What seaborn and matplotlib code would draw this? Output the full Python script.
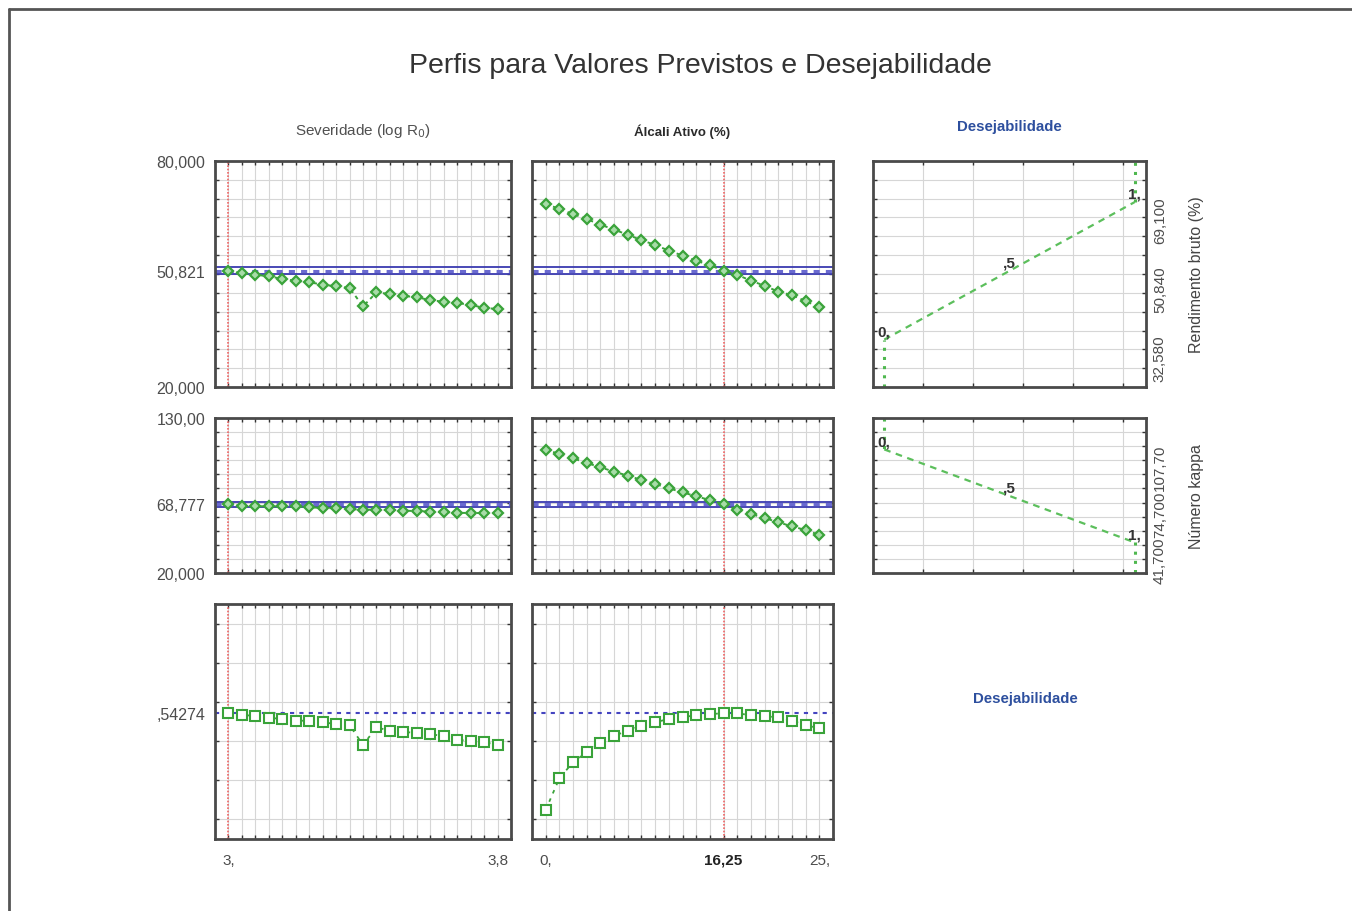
import numpy as np
import matplotlib
matplotlib.use("Agg")
import matplotlib.pyplot as plt
import seaborn as sns
from matplotlib.lines import Line2D

# ---------------------------
# data
# ---------------------------
sev_x = [3.00, 3.04, 3.08, 3.12, 3.16, 3.20, 3.24, 3.28, 3.32, 3.36, 3.40,
         3.44, 3.48, 3.52, 3.56, 3.60, 3.64, 3.68, 3.72, 3.76, 3.80]
alc_x = [0.0, 1.25, 2.5, 3.75, 5.0, 6.25, 7.5, 8.75, 10.0, 11.25, 12.5,
         13.75, 15.0, 16.25, 17.5, 18.75, 20.0, 21.25, 22.5, 23.75, 25.0]

yield_sev = [50.82, 50.2, 49.8, 49.4, 48.7, 48.2, 47.8, 47.2, 46.7, 46.3, 41.4,
             45.1, 44.7, 44.2, 43.8, 43.1, 42.6, 42.3, 41.8, 41.0, 40.7]
yield_alc = [68.6, 67.3, 65.9, 64.6, 63.1, 61.8, 60.4, 59.0, 57.7, 56.2, 54.9,
             53.5, 52.4, 50.82, 49.8, 48.2, 46.9, 45.3, 44.4, 42.8, 41.2]
kappa_sev = [68.78, 67.5, 67.4, 67.3, 67.2, 67.3, 66.6, 66.2, 65.9, 65.3, 65.0,
             64.9, 64.8, 64.3, 63.9, 63.6, 63.4, 62.7, 62.6, 62.5, 62.3]
kappa_alc = [107.5, 104.5, 101.4, 98.1, 95.0, 91.9, 89.1, 86.0, 83.2, 80.1, 77.3,
             74.4, 71.8, 68.78, 64.9, 61.9, 59.0, 56.0, 53.1, 50.5, 47.0]
des_sev = [0.543, 0.535, 0.527, 0.519, 0.513, 0.504, 0.504, 0.496, 0.487, 0.482, 0.380,
           0.470, 0.453, 0.448, 0.440, 0.434, 0.427, 0.407, 0.400, 0.394, 0.382]
des_alc = [0.048, 0.210, 0.292, 0.343, 0.389, 0.427, 0.453, 0.479, 0.496, 0.513, 0.521,
           0.533, 0.537, 0.543, 0.541, 0.533, 0.527, 0.521, 0.504, 0.482, 0.465]

current_sev = 3.0
current_alc = 16.25
current_yield = 50.821
current_kappa = 68.777
current_des = 0.54274
ci_yield = 0.95
ci_kappa = 1.8

# desirability functions (desirability level -> response value)
d_levels = [0.0, 0.5, 1.0]
d_labels = ["0,", ",5", "1,"]
yield_d = [32.58, 50.84, 69.10]
kappa_d = [107.7, 74.7, 41.7]
yield_d_lbl = ["32,580", "50,840", "69,100"]
kappa_d_lbl = ["107,70", "74,700", "41,700"]

row_ylim = [(20, 80), (20, 130), (-0.1, 1.1)]
row_ylbl = [["20,000", "50,821", "80,000"], ["20,000", "68,777", "130,00"], [",54274"]]
row_yval = [[20, current_yield, 80], [20, current_kappa, 130], [current_des]]
row_grid = [np.arange(20, 81, 5), np.arange(20, 131, 10), [0, 0.2, 0.4, 0.6, 0.8, 1.0]]

# ---------------------------
# style
# ---------------------------
sns.set_theme(style="white")
plt.rcParams['font.family'] = ['Liberation Sans', 'DejaVu Sans']

GREEN = '#3aa33a'
LGREEN = '#a8dca8'
BLUE = '#3a3ab0'
RED = '#f06464'
TXT = '#4d4d4d'

W, H = 1352, 912
fig = plt.figure(figsize=(W / 100, H / 100), dpi=100)

cols = [(215, 511), (532, 833), (873, 1146)]
rows = [(162, 388), (419, 574), (605, 840)]


def make_ax(c, r):
    x0, x1 = cols[c]
    y0, y1 = rows[r]
    return fig.add_axes([x0 / W, 1 - y1 / H, (x1 - x0) / W, (y1 - y0) / H])


def frame(ax):
    for s in ax.spines.values():
        s.set_color('#4a4a4a')
        s.set_linewidth(2)
    ax.tick_params(which='major', direction='in', length=3, width=1, color='#333333',
                   top=True, right=True, left=True, bottom=True,
                   labelleft=False, labelbottom=False)
    ax.grid(which='major', color='#d6d6d6', lw=0.8)
    ax.set_axisbelow(True)
    ax.xaxis.remove_overlapping_locs = False
    ax.yaxis.remove_overlapping_locs = False


xs_list = [sev_x, alc_x]
xlims = [(2.96, 3.84), (-1.25, 26.25)]
cur_x = [current_sev, current_alc]
series = [[yield_sev, yield_alc], [kappa_sev, kappa_alc], [des_sev, des_alc]]
cur_y = [current_yield, current_kappa, current_des]
cis = [ci_yield, ci_kappa, None]
xlbl_val = [[3.0, 3.8], [0.0, 16.25, 25.0]]
xlbl_txt = [["3,", "3,8"], ["0,", "16,25", "25,"]]

for r in range(3):
    for c in range(2):
        ax = make_ax(c, r)
        frame(ax)
        ax.set_xlim(*xlims[c])
        ax.set_ylim(*row_ylim[r])
        ax.set_xticks(xs_list[c])
        ax.set_yticks(row_grid[r])

        # current value lines
        ax.axvline(cur_x[c], color=RED, lw=1.2, ls=(0, (1, 1)), zorder=2)
        if cis[r] is not None:
            ax.axhline(cur_y[r] + cis[r], color=BLUE, lw=1.3, zorder=2)
            ax.axhline(cur_y[r] - cis[r], color=BLUE, lw=1.3, zorder=2)
            ax.axhline(cur_y[r], color='#6a6ad0', lw=2.2, ls=(0, (2, 2)), zorder=2)
        else:
            ax.axhline(cur_y[r], color='#4444c0', lw=1.5, ls=(0, (2, 2.5)), zorder=2)

        if r < 2:
            sns.lineplot(x=xs_list[c], y=series[r][c], ax=ax, color=GREEN, lw=1.4,
                         linestyle=(0, (2, 2)), marker='D', markersize=5,
                         markerfacecolor=LGREEN, markeredgecolor=GREEN,
                         markeredgewidth=1.6, zorder=3)
        else:
            sns.lineplot(x=xs_list[c], y=series[r][c], ax=ax, color=GREEN, lw=1.3,
                         linestyle=(0, (2, 3)), marker='s', markersize=7,
                         markerfacecolor='white', markeredgecolor=GREEN,
                         markeredgewidth=1.5, zorder=3)

        if c == 0:
            ax.set_yticks(row_yval[r], labels=row_ylbl[r], minor=True)
            ax.tick_params(which='minor', axis='y', length=0, labelleft=True,
                           labelsize=11.5, labelcolor=TXT, pad=7)
        if r == 2:
            ax.set_xticks(xlbl_val[c], labels=xlbl_txt[c], minor=True)
            ax.tick_params(which='minor', axis='x', length=0, labelbottom=True,
                           labelsize=11, labelcolor=TXT, pad=10)
            for t in ax.get_xticklabels(minor=True):
                if t.get_text() == "16,25":
                    t.set_fontweight('bold')
                    t.set_color('#222222')
        ax.set_xlabel('')
        ax.set_ylabel('')

# desirability function panels
d_resp = [yield_d, kappa_d]
d_lbls = [yield_d_lbl, kappa_d_lbl]
d_names = ["Rendimento bruto (%)", "Número kappa"]
for r in range(2):
    ax = make_ax(2, r)
    frame(ax)
    ax.set_xlim(-0.045, 1.045)
    ax.set_ylim(*row_ylim[r])
    ax.set_xticks([0.155, 0.355, 0.555, 0.755, 0.955])
    ax.set_yticks(row_grid[r])
    lo, hi = row_ylim[r]
    resp = d_resp[r]
    # plateaus outside the limits
    edge0 = lo if resp[0] < resp[-1] else hi
    edge1 = hi if resp[0] < resp[-1] else lo
    ax.plot([d_levels[0], d_levels[0]], [edge0, resp[0]], color='#4fb84f', lw=2.2,
            ls=(0, (1, 2)))
    ax.plot([d_levels[-1], d_levels[-1]], [resp[-1], edge1], color='#4fb84f', lw=2.2,
            ls=(0, (1, 2)))
    sns.lineplot(x=d_levels, y=resp, ax=ax, color='#5cbf5c', lw=1.6,
                 linestyle=(0, (3, 2.5)))
    for dl, rv, tx in zip(d_levels, resp, d_labels):
        ax.annotate(tx, (dl, rv), xytext=(0, 1), textcoords='offset points',
                    ha='center', va='bottom', fontsize=11, fontweight='bold',
                    color='#333333')
    sec = ax.secondary_yaxis('right')
    sec.set_yticks(resp, labels=d_lbls[r])
    sec.tick_params(length=0, labelrotation=90, labelsize=11, labelcolor=TXT, pad=5)
    for s in sec.spines.values():
        s.set_visible(False)
    ax.set_xlabel('')
    ax.set_ylabel('')
    yc = (rows[r][0] + rows[r][1]) / 2
    fig.text(1196 / W, 1 - yc / H, d_names[r], rotation=90, ha='center', va='center',
             fontsize=11.5, color='#444444')

# texts
fig.text(700 / W, 1 - 66 / H, "Perfis para Valores Previstos e Desejabilidade",
         ha='center', va='center', fontsize=20.5, color='#333333')
fig.text(363 / W, 1 - 131 / H, "Severidade (log R$_0$)", ha='center', va='center',
         fontsize=11, color='#505050')
fig.text(682 / W, 1 - 132 / H, "Álcali Ativo (%)", ha='center', va='center',
         fontsize=9.5, fontweight='bold', color='#2a2a2a')
fig.text(1009 / W, 1 - 127 / H, "Desejabilidade", ha='center', va='center',
         fontsize=10.8, fontweight='bold', color='#2d4f9e')
fig.text(1025 / W, 1 - 699 / H, "Desejabilidade", ha='center', va='center',
         fontsize=10.8, fontweight='bold', color='#2d4f9e')

# outer frame (left and top edges only visible)
fig.add_artist(Line2D([9 / W, 9 / W], [0, 1 - 10 / H], color='#555555', lw=2))
fig.add_artist(Line2D([9 / W, 1], [1 - 10 / H, 1 - 10 / H], color='#555555', lw=2))

fig.savefig("out.png", dpi=100)
